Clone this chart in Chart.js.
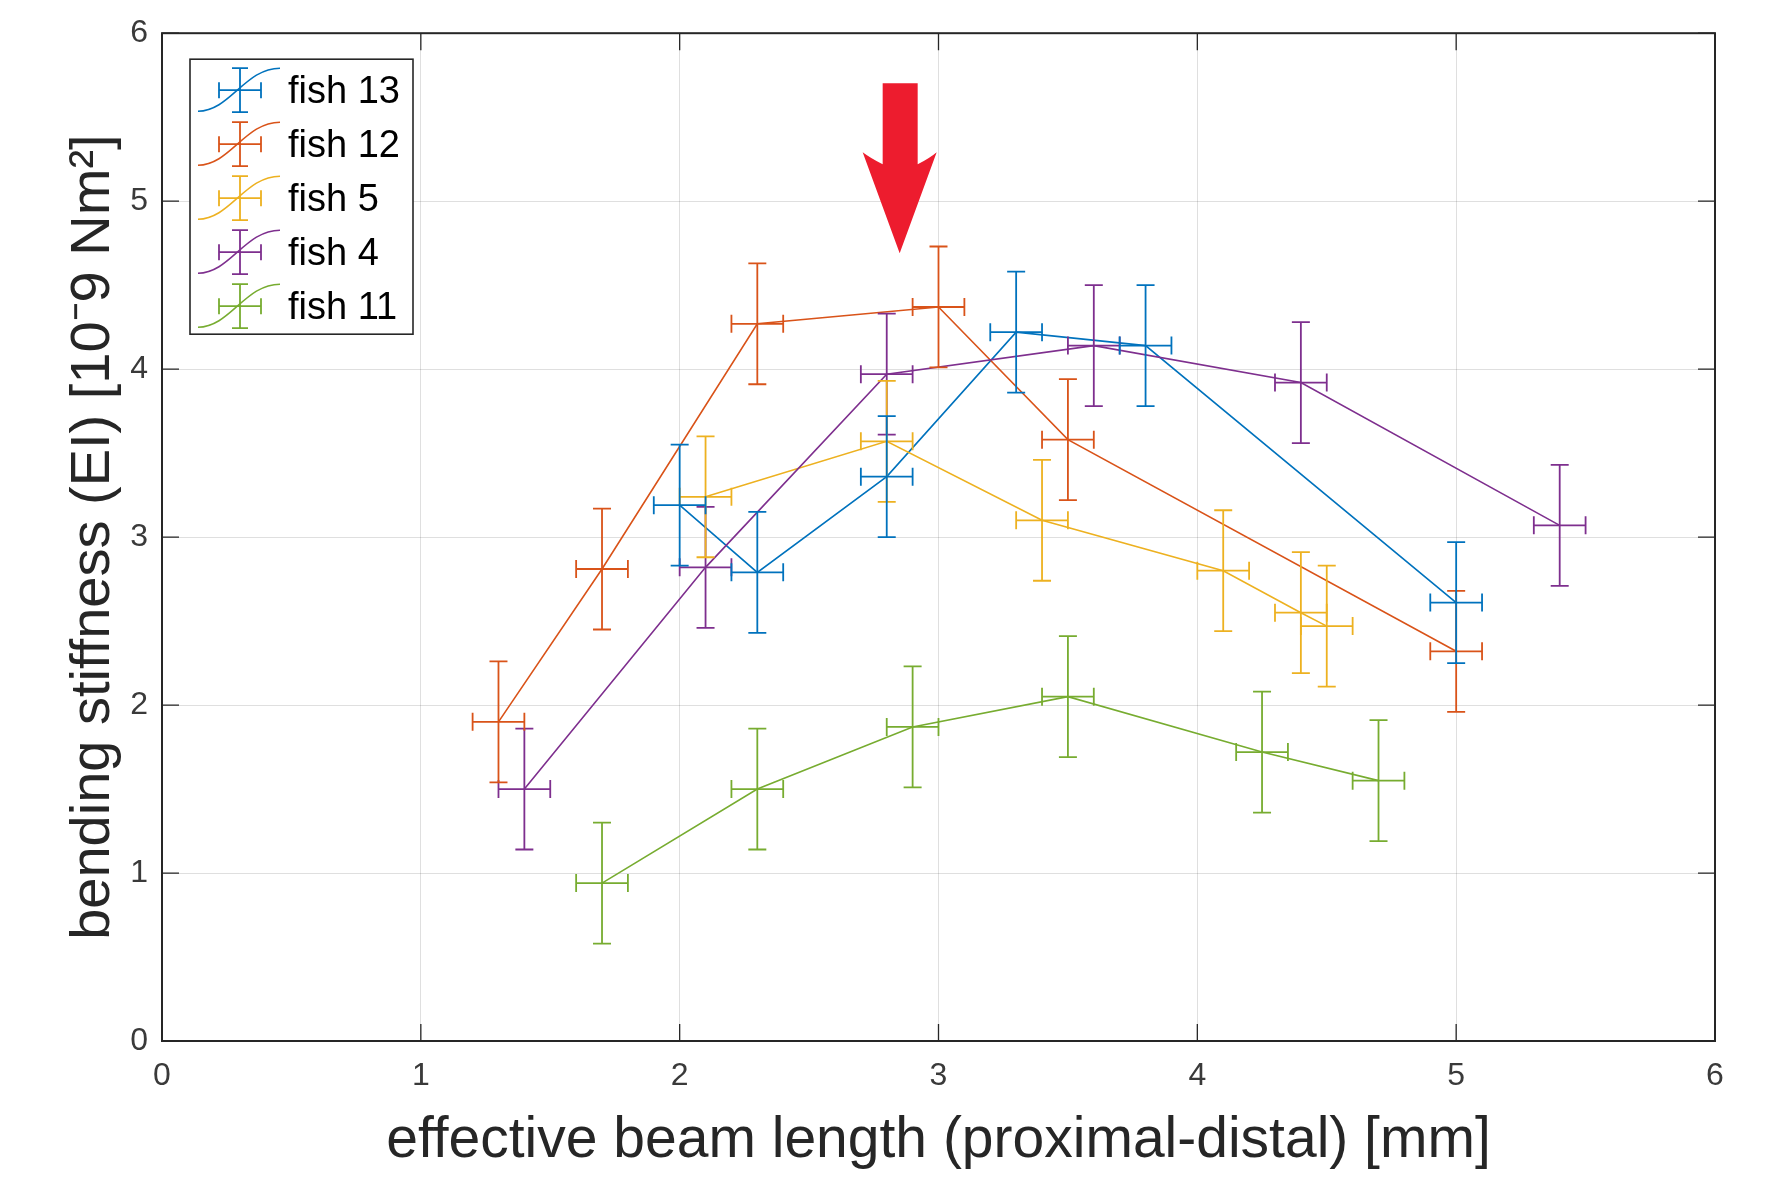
<!DOCTYPE html>
<html>
<head>
<meta charset="utf-8">
<script src="https://cdn.jsdelivr.net/npm/chart.js@4.4.1/dist/chart.umd.min.js"></script>
<style>
html,body{margin:0;padding:0;background:#ffffff;}
#wrap{width:1781px;height:1179px;position:relative;}
</style>
</head>
<body>
<div id="wrap"><canvas id="c" width="1781" height="1179"></canvas></div>
<script>
// ---- data ----
const seriesNames = ['fish 13', 'fish 12', 'fish 5', 'fish 4', 'fish 11'];

const fish13X    = [2.0, 2.3, 2.8, 3.3, 3.8, 5.0];
const fish13Y    = [3.19, 2.79, 3.36, 4.22, 4.14, 2.61];
const fish13XErr = [0.10, 0.10, 0.10, 0.10, 0.10, 0.10];
const fish13YErr = [0.36, 0.36, 0.36, 0.36, 0.36, 0.36];

const fish12X    = [1.3, 1.7, 2.3, 3.0, 3.5, 5.0];
const fish12Y    = [1.90, 2.81, 4.27, 4.37, 3.58, 2.32];
const fish12XErr = [0.10, 0.10, 0.10, 0.10, 0.10, 0.10];
const fish12YErr = [0.36, 0.36, 0.36, 0.36, 0.36, 0.36];

const fish5X     = [2.1, 2.8, 3.4, 4.1, 4.4, 4.5];
const fish5Y     = [3.24, 3.57, 3.10, 2.80, 2.55, 2.47];
const fish5XErr  = [0.10, 0.10, 0.10, 0.10, 0.10, 0.10];
const fish5YErr  = [0.36, 0.36, 0.36, 0.36, 0.36, 0.36];

const fish4X     = [1.4, 2.1, 2.8, 3.6, 4.4, 5.4];
const fish4Y     = [1.50, 2.82, 3.97, 4.14, 3.92, 3.07];
const fish4XErr  = [0.10, 0.10, 0.10, 0.10, 0.10, 0.10];
const fish4YErr  = [0.36, 0.36, 0.36, 0.36, 0.36, 0.36];

const fish11X    = [1.7, 2.3, 2.9, 3.5, 4.25, 4.7];
const fish11Y    = [0.94, 1.50, 1.87, 2.05, 1.72, 1.55];
const fish11XErr = [0.10, 0.10, 0.10, 0.10, 0.10, 0.10];
const fish11YErr = [0.36, 0.36, 0.36, 0.36, 0.36, 0.36];

const xTickValues = [0, 1, 2, 3, 4, 5, 6];
const yTickValues = [0, 1, 2, 3, 4, 5, 6];
const arrowTip = {x: 2.85, y: 4.69};   // annotation arrow tip in data units

// ---- styles ----
const seriesColors = ['#0072BD', '#D95319', '#EDB120', '#7E2F8E', '#77AC30'];
const FONT = "'Liberation Sans', Arial, Helvetica, sans-serif";
const AXIS_COLOR = '#262626';
const TICK_COLOR = '#3a3a3a';

const seriesX = [fish13X, fish12X, fish5X, fish4X, fish11X];
const seriesY = [fish13Y, fish12Y, fish5Y, fish4Y, fish11Y];
const seriesXE = [fish13XErr, fish12XErr, fish5XErr, fish4XErr, fish11XErr];
const seriesYE = [fish13YErr, fish12YErr, fish5YErr, fish4YErr, fish11YErr];

const datasets = seriesNames.map((name, i) => ({
  label: name,
  data: seriesX[i].map((xv, k) => ({x: xv, y: seriesY[i][k], xe: seriesXE[i][k], ye: seriesYE[i][k]})),
  showLine: true,
  borderColor: seriesColors[i],
  backgroundColor: seriesColors[i],
  borderWidth: 1.6,
  pointRadius: 0,
  pointHoverRadius: 0,
  tension: 0,
  order: seriesNames.length - i
}));

const errorBarPlugin = {
  id: 'errorBars',
  afterDatasetsDraw(chart) {
    const {ctx} = chart;
    const xs = chart.scales.x, ys = chart.scales.y;
    const cap = 9;
    for (let i = chart.data.datasets.length - 1; i >= 0; i--) {
      const ds = chart.data.datasets[i];
      ctx.save();
      ctx.strokeStyle = ds.borderColor;
      ctx.lineWidth = 1.8;
      ds.data.forEach(p => {
        const px = xs.getPixelForValue(p.x), py = ys.getPixelForValue(p.y);
        const xl = xs.getPixelForValue(p.x - p.xe), xr = xs.getPixelForValue(p.x + p.xe);
        const yb = ys.getPixelForValue(p.y - p.ye), yt = ys.getPixelForValue(p.y + p.ye);
        ctx.beginPath();
        ctx.moveTo(px, yb); ctx.lineTo(px, yt);
        ctx.moveTo(px - cap, yb); ctx.lineTo(px + cap, yb);
        ctx.moveTo(px - cap, yt); ctx.lineTo(px + cap, yt);
        ctx.moveTo(xl, py); ctx.lineTo(xr, py);
        ctx.moveTo(xl, py - cap); ctx.lineTo(xl, py + cap);
        ctx.moveTo(xr, py - cap); ctx.lineTo(xr, py + cap);
        ctx.stroke();
      });
      ctx.restore();
    }
  }
};

const framePlugin = {
  id: 'frame',
  afterDatasetsDraw(chart) {
    const {ctx, chartArea: a} = chart;
    const xs = chart.scales.x, ys = chart.scales.y;
    const tl = 17;
    ctx.save();
    ctx.strokeStyle = AXIS_COLOR;
    ctx.lineWidth = 2;
    ctx.strokeRect(a.left, a.top, a.right - a.left, a.bottom - a.top);
    ctx.lineWidth = 1.3;
    ctx.beginPath();
    xTickValues.forEach(v => {
      const px = xs.getPixelForValue(v);
      ctx.moveTo(px, a.bottom); ctx.lineTo(px, a.bottom - tl);
      ctx.moveTo(px, a.top); ctx.lineTo(px, a.top + tl);
    });
    yTickValues.forEach(v => {
      const py = ys.getPixelForValue(v);
      ctx.moveTo(a.left, py); ctx.lineTo(a.left + tl, py);
      ctx.moveTo(a.right, py); ctx.lineTo(a.right - tl, py);
    });
    ctx.stroke();
    ctx.restore();
  }
};

const legendPlugin = {
  id: 'customLegend',
  afterDraw(chart) {
    const {ctx, chartArea: a} = chart;
    const bx = a.left + 28, by = a.top + 26, bw = 223, bh = 275;
    ctx.save();
    ctx.fillStyle = '#ffffff';
    ctx.fillRect(bx, by, bw, bh);
    ctx.strokeStyle = AXIS_COLOR;
    ctx.lineWidth = 1.6;
    ctx.strokeRect(bx, by, bw, bh);
    ctx.font = '38px ' + FONT;
    ctx.textBaseline = 'middle';
    ctx.textAlign = 'left';
    chart.data.datasets.forEach((ds, i) => {
      const cy = by + 31 + i * 54;
      const cx = bx + 50;
      ctx.strokeStyle = ds.borderColor;
      // sigmoid line sample
      ctx.lineWidth = 1.5;
      ctx.beginPath();
      ctx.moveTo(bx + 8, cy + 21);
      ctx.bezierCurveTo(bx + 40, cy + 21, bx + 55, cy - 22, bx + 90, cy - 22);
      ctx.stroke();
      // error cross
      ctx.lineWidth = 1.8;
      const h = 21, v = 22, c = 8;
      ctx.beginPath();
      ctx.moveTo(cx - h, cy); ctx.lineTo(cx + h, cy);
      ctx.moveTo(cx - h, cy - c); ctx.lineTo(cx - h, cy + c);
      ctx.moveTo(cx + h, cy - c); ctx.lineTo(cx + h, cy + c);
      ctx.moveTo(cx, cy - v); ctx.lineTo(cx, cy + v);
      ctx.moveTo(cx - c, cy - v); ctx.lineTo(cx + c, cy - v);
      ctx.moveTo(cx - c, cy + v); ctx.lineTo(cx + c, cy + v);
      ctx.stroke();
      ctx.fillStyle = '#000000';
      ctx.fillText(ds.label, bx + 98, cy + 2);
    });
    ctx.restore();
  }
};

const arrowPlugin = {
  id: 'redArrow',
  afterDraw(chart) {
    const {ctx} = chart;
    const tx = chart.scales.x.getPixelForValue(arrowTip.x);
    const ty = chart.scales.y.getPixelForValue(arrowTip.y);
    ctx.save();
    ctx.fillStyle = '#ED1C2E';
    ctx.beginPath();
    ctx.moveTo(tx - 17, ty - 170);
    ctx.lineTo(tx + 18, ty - 170);
    ctx.lineTo(tx + 18, ty - 89);
    ctx.quadraticCurveTo(tx + 30, ty - 95, tx + 37, ty - 101);
    ctx.lineTo(tx, ty);
    ctx.lineTo(tx - 37, ty - 101);
    ctx.quadraticCurveTo(tx - 29, ty - 95, tx - 17, ty - 89);
    ctx.closePath();
    ctx.fill();
    ctx.restore();
  }
};

const gridColor = 'rgba(38,38,38,0.15)';

new Chart(document.getElementById('c'), {
  type: 'scatter',
  data: {datasets},
  options: {
    responsive: false,
    devicePixelRatio: 1,
    animation: false,
    layout: {padding: {left: 0, right: 66, top: 31, bottom: 0}},
    plugins: {legend: {display: false}, tooltip: {enabled: false}},
    scales: {
      x: {
        type: 'linear', min: 0, max: 6,
        afterFit: s => { s.height = 138; },
        afterBuildTicks: s => { s.ticks = xTickValues.map(v => ({value: v})); },
        grid: {color: gridColor, lineWidth: 1, drawTicks: false},
        border: {display: false},
        ticks: {color: TICK_COLOR, font: {family: FONT, size: 32}, padding: 16, maxRotation: 0},
        title: {display: true, text: 'effective beam length (proximal-distal) [mm]', color: AXIS_COLOR,
                font: {family: FONT, size: 57}, padding: {top: 0, bottom: 4}}
      },
      y: {
        type: 'linear', min: 0, max: 6,
        afterFit: s => { s.width = 162; },
        afterBuildTicks: s => { s.ticks = yTickValues.map(v => ({value: v})); },
        grid: {color: gridColor, lineWidth: 1, drawTicks: false},
        border: {display: false},
        ticks: {color: TICK_COLOR, font: {family: FONT, size: 32}, padding: 14},
        title: {display: true, text: 'bending stiffness (EI) [10\u207B9 Nm\u00B2]', color: AXIS_COLOR,
                font: {family: FONT, size: 56}, padding: {top: 60, bottom: 0}}
      }
    }
  },
  plugins: [errorBarPlugin, framePlugin, legendPlugin, arrowPlugin]
});
</script>
</body>
</html>
